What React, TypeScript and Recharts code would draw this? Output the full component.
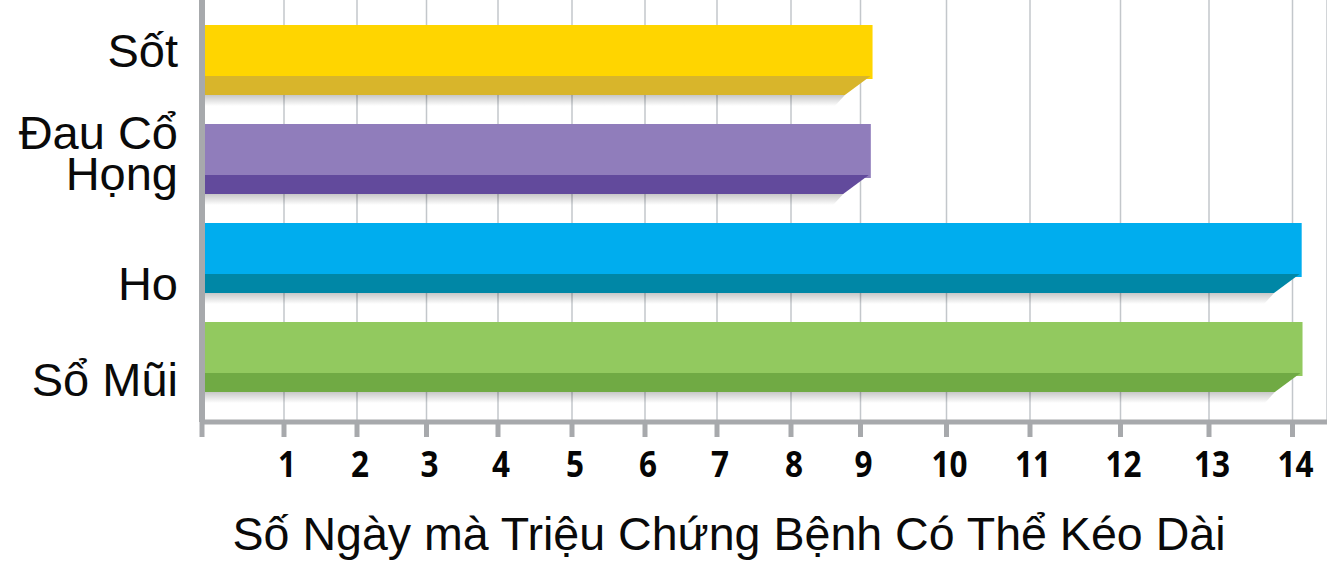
import React from 'react';
import { BarChart, Bar, XAxis, YAxis, CartesianGrid } from 'recharts';

// ---------- data ----------
const categories = ['Sốt', 'Đau Cổ Họng', 'Ho', 'Sổ Mũi'];
const days = [9.14, 9.12, 14.11, 14.12];
const tickValues = [0, 1, 2, 3, 4, 5, 6, 7, 8, 9, 10, 11, 12, 13, 14];
const axisTitle = 'Số Ngày mà Triệu Chứng Bệnh Có Thể Kéo Dài';

const data = categories.map((name, i) => ({ name, days: days[i] }));

// ---------- style ----------
const LIGHT = ['#FFD500', '#907DBB', '#00ADEE', '#92C95F'];
const DARK = ['#D8B52B', '#624A9C', '#0087A6', '#70AA44'];
const AXIS_GRAY = '#A7A9AC';
const GRID_GRAY = '#C3C7CB';
const LABEL_DY = [-10, -6, 25, 22];

// The reference axis is drawn with uneven spacing between the day marks.
const PLOT_LEFT = 202;
const PLOT_RIGHT = 1327;
const MARK_PX = [202, 284, 357, 426.5, 498, 572, 645, 717, 791, 860.5, 946.5, 1030, 1120.5, 1209, 1292.5];
const DOMAIN_MAX = 14 + (PLOT_RIGHT - MARK_PX[14]) / (MARK_PX[14] - MARK_PX[13]);
const KNOT_V = [...tickValues, DOMAIN_MAX];
const KNOT_F = [...MARK_PX.map((p) => (p - PLOT_LEFT) / (PLOT_RIGHT - PLOT_LEFT)), 1];

function makeScale(dom: number[] = [0, 1], rng: number[] = [0, 1]): any {
  let d = dom.slice();
  let r = rng.slice();
  const seg = (arr: number[], v: number) => {
    const n = arr.length;
    let i = 0;
    if (v <= arr[0]) i = 0;
    else if (v >= arr[n - 1]) i = n - 2;
    else {
      while (i < n - 2 && v > arr[i + 1]) i++;
    }
    return i;
  };
  const toFrac = (v: number) => {
    const i = seg(KNOT_V, v);
    const t = (v - KNOT_V[i]) / (KNOT_V[i + 1] - KNOT_V[i]);
    return KNOT_F[i] + t * (KNOT_F[i + 1] - KNOT_F[i]);
  };
  const fromFrac = (f: number) => {
    const i = seg(KNOT_F, f);
    const t = (f - KNOT_F[i]) / (KNOT_F[i + 1] - KNOT_F[i]);
    return KNOT_V[i] + t * (KNOT_V[i + 1] - KNOT_V[i]);
  };
  const s: any = (v: number) => r[0] + toFrac(Number(v)) * (r[1] - r[0]);
  s.domain = (x?: number[]) => {
    if (x === undefined) return d.slice();
    d = x.slice();
    return s;
  };
  s.range = (x?: number[]) => {
    if (x === undefined) return r.slice();
    r = x.slice();
    return s;
  };
  s.copy = () => makeScale(d, r);
  s.ticks = () => tickValues.slice();
  s.invert = (px: number) => fromFrac((px - r[0]) / (r[1] - r[0]));
  s.clamp = () => s;
  s.nice = () => s;
  s.tickFormat = () => (v: number) => String(v);
  return s;
}

const xScale = makeScale();

// ---------- custom renderers ----------
const BarShape = (props: any) => {
  const { x, y, width, height, index } = props;
  if (width == null || width <= 0) return null;
  const light = LIGHT[index % LIGHT.length];
  const dark = DARK[index % DARK.length];
  const hl = Math.round(height * 0.735);
  const xe = x + width;
  const yd = y + hl;
  const yb = y + height;
  const slant = (yb - yd) * 1.35;
  const gid = `bar-shadow-${index}`;
  return (
    <g>
      <defs>
        <linearGradient id={gid} x1="0" y1="0" x2="0" y2="1">
          <stop offset="0%" stopColor="#000" stopOpacity={0.22} />
          <stop offset="100%" stopColor="#000" stopOpacity={0} />
        </linearGradient>
      </defs>
      <polygon
        points={`${x},${yb} ${xe - 2 - slant},${yb} ${xe - 2 - slant - 10},${yb + 11} ${x},${yb + 11}`}
        fill={`url(#${gid})`}
      />
      <rect x={x} y={y} width={width} height={hl + 3} fill={light} />
      <polygon points={`${x},${yd} ${xe - 2},${yd} ${xe - 2 - slant},${yb} ${x},${yb}`} fill={dark} />
    </g>
  );
};

const YTick = (props: any) => {
  const { x, y, payload, index } = props;
  const words = String(payload.value).split(' ');
  const lines = words.length > 2 ? [words.slice(0, 2).join(' '), words.slice(2).join(' ')] : [words.join(' ')];
  const lh = 41;
  const dy = LABEL_DY[index] ?? 0;
  const first = y + dy + 17 - ((lines.length - 1) * lh) / 2;
  return (
    <text
      x={x}
      y={first}
      textAnchor="end"
      fontFamily="'Liberation Sans', Arial, sans-serif"
      fontSize={47}
      fill="#0a0a0a"
    >
      {lines.map((l, i) => (
        <tspan key={i} x={x} y={first + i * lh}>
          {l}
        </tspan>
      ))}
    </text>
  );
};

const XTick = (props: any) => {
  const { x, y, payload } = props;
  if (payload.value === 0) return null;
  return (
    <text
      x={x + 3}
      y={y + 32}
      textAnchor="middle"
      fontFamily="'Open Sans', 'Liberation Sans', sans-serif"
      fontWeight={700}
      fontSize={35}
      fill="#050505"
      transform={`translate(${x + 3} 0) scale(0.9 1) translate(${-(x + 3)} 0)`}
    >
      {payload.value}
    </text>
  );
};

const TitleLabel = () => (
  <text
    x={729}
    y={550}
    textAnchor="middle"
    fontFamily="'Liberation Sans', Arial, sans-serif"
    fontSize={46}
    fill="#0a0a0a"
    textLength={993}
    lengthAdjust="spacingAndGlyphs"
  >
    {axisTitle}
  </text>
);

export default function App() {
  return (
    <div style={{ position: 'absolute', left: 0, top: 0, width: 1327, height: 562, background: '#fff' }}>
      <BarChart
        width={1327}
        height={562}
        data={data}
        layout="vertical"
        margin={{ top: 0, right: 0, bottom: 0, left: 0 }}
        barSize={70}
      >
        <CartesianGrid horizontal={false} vertical stroke={GRID_GRAY} strokeWidth={1.5} />
        <XAxis
          type="number"
          dataKey="days"
          domain={[0, DOMAIN_MAX]}
          scale={xScale}
          ticks={tickValues}
          interval={0}
          allowDataOverflow
          height={140}
          axisLine={{ stroke: AXIS_GRAY, strokeWidth: 5 }}
          tickLine={{ stroke: AXIS_GRAY, strokeWidth: 5 }}
          tickSize={15}
          tickMargin={8}
          tick={<XTick />}
          label={<TitleLabel />}
        />
        <YAxis
          type="category"
          dataKey="name"
          width={202}
          padding={{ top: 10, bottom: 16 }}
          axisLine={{ stroke: AXIS_GRAY, strokeWidth: 6 }}
          tickLine={false}
          tickSize={0}
          tickMargin={24}
          interval={0}
          tick={<YTick />}
        />
        <Bar dataKey="days" shape={<BarShape />} isAnimationActive={false} />
      </BarChart>
    </div>
  );
}
